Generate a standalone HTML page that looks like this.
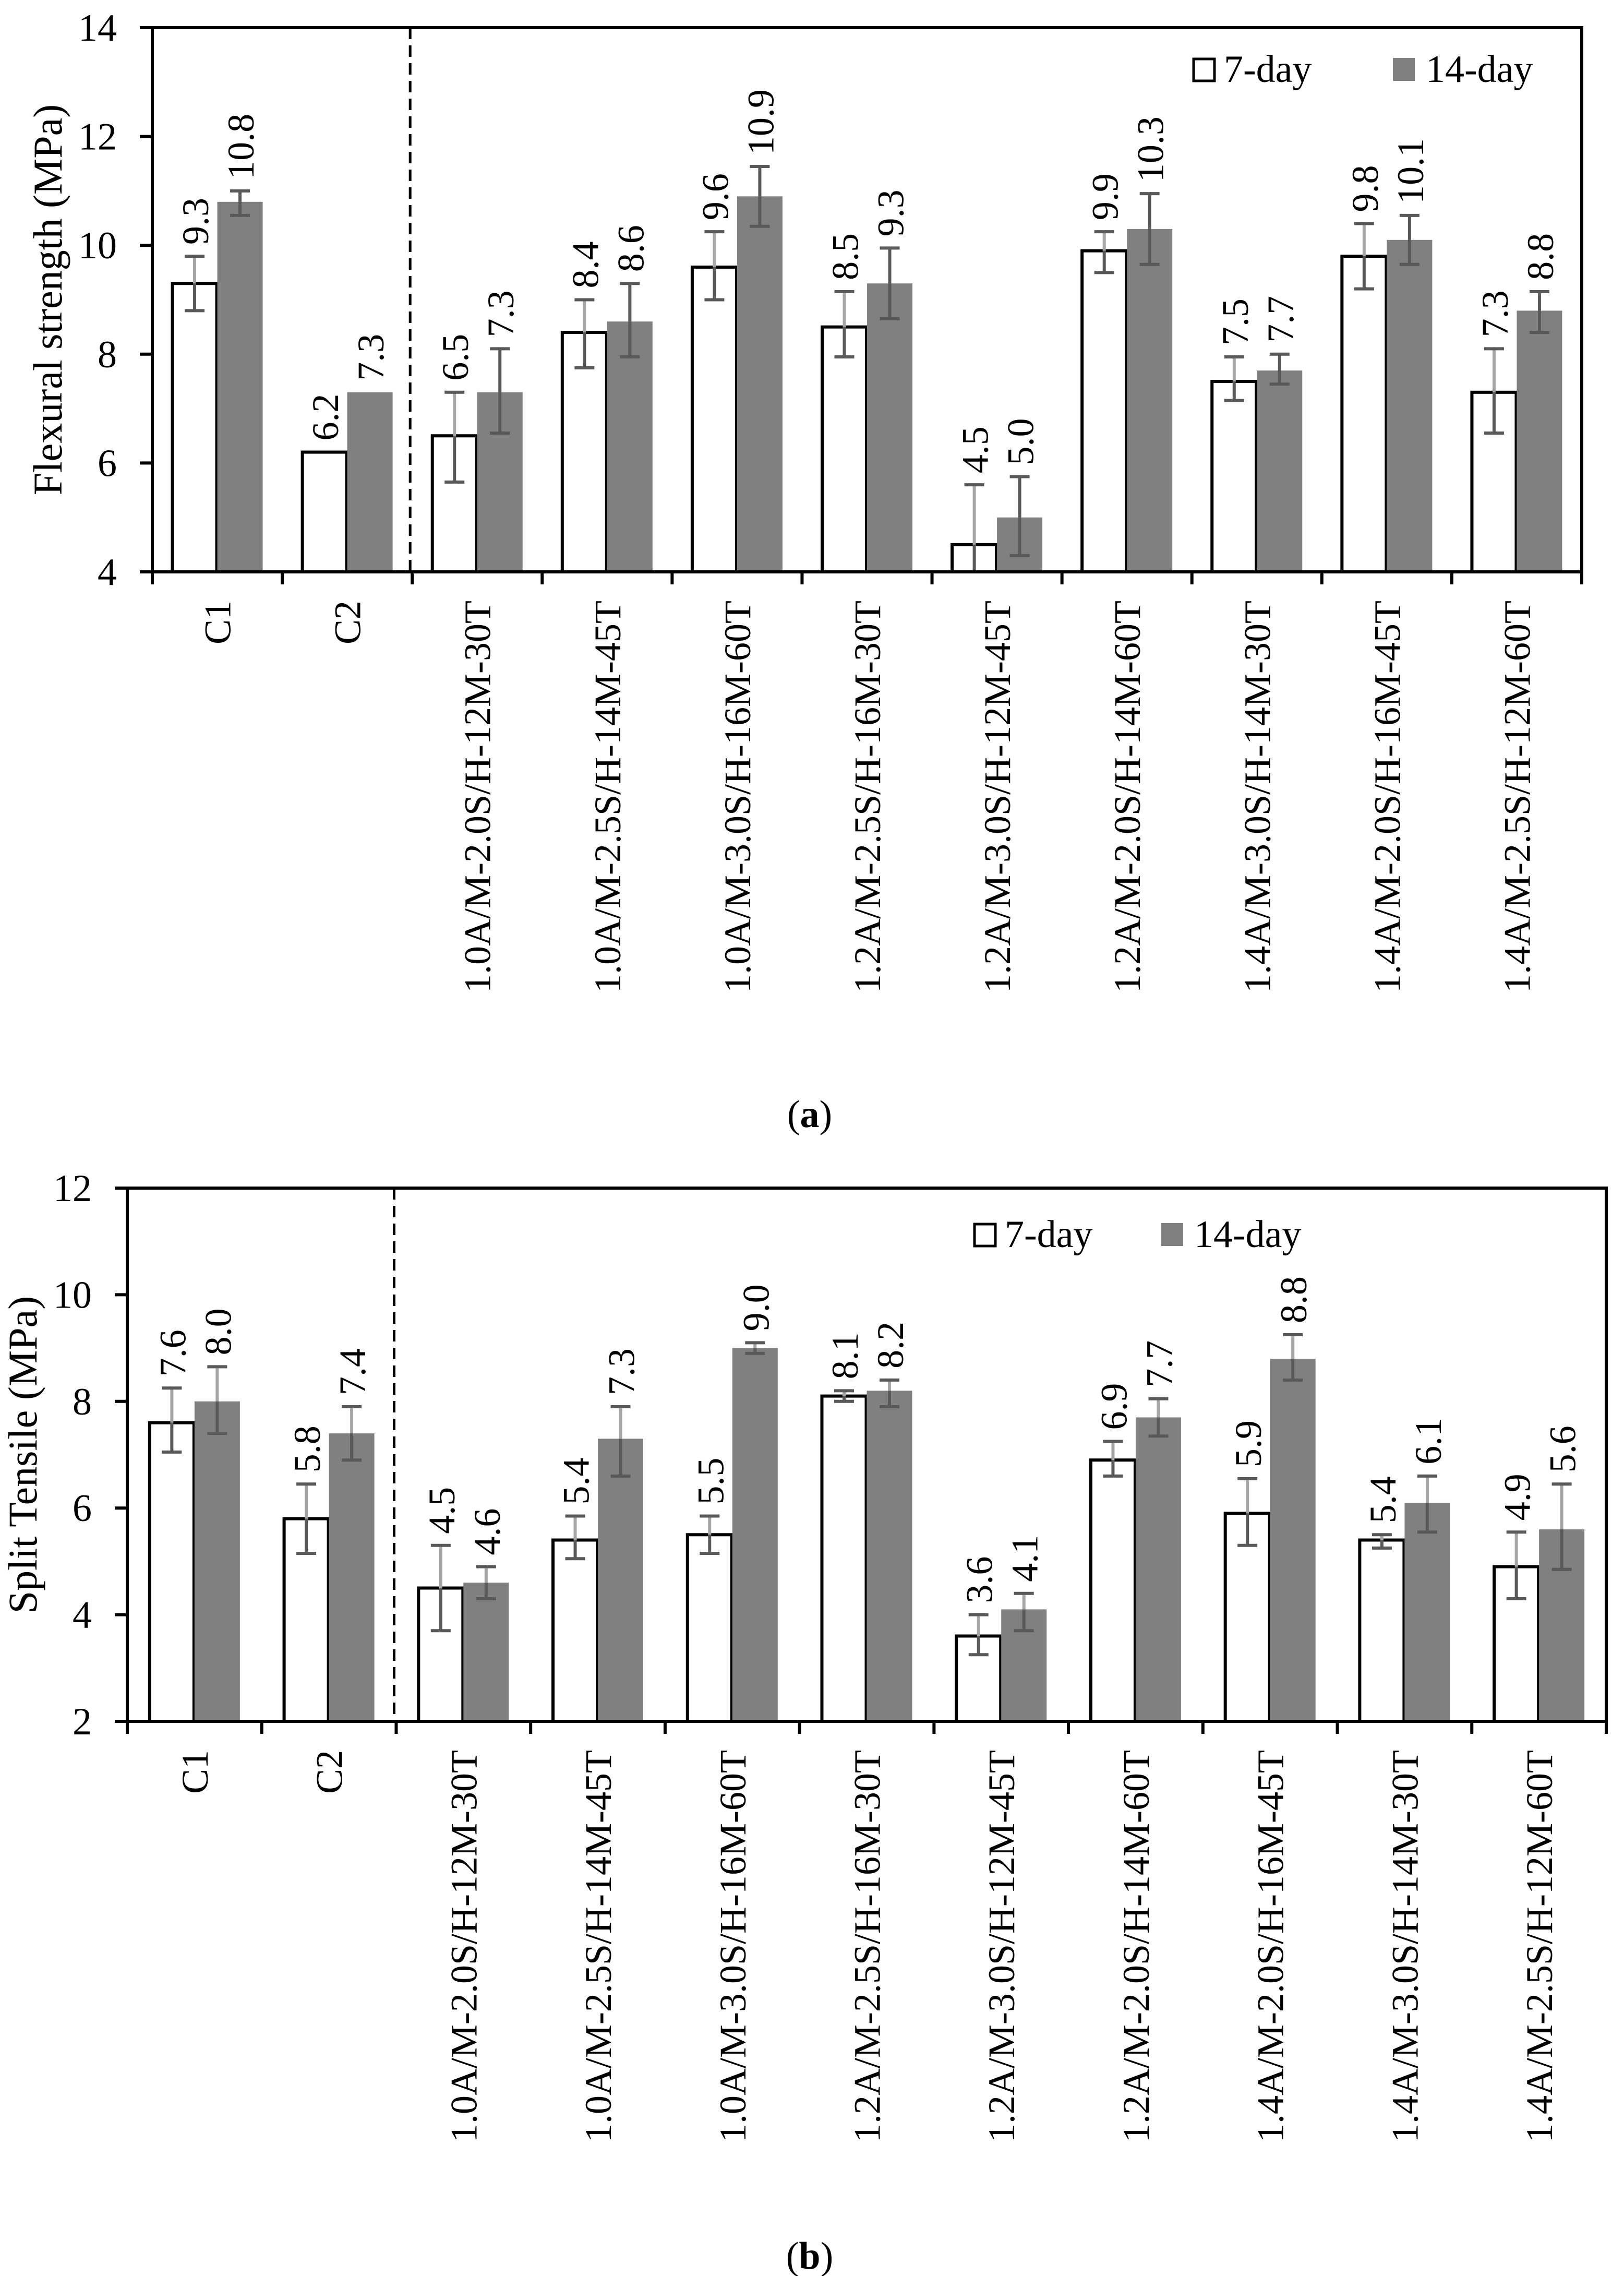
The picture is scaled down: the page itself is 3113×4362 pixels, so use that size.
<!DOCTYPE html>
<html><head><meta charset="utf-8">
<style>
html,body{margin:0;padding:0;background:#fff;}
svg{display:block;font-family:"Liberation Serif",serif;}
</style></head>
<body>
<svg id="fig" width="3113" height="4362" viewBox="0 0 3113 4362" xmlns="http://www.w3.org/2000/svg">
<text x="1552" y="2160" font-size="74" text-anchor="middle">(<tspan font-weight="bold">a</tspan>)</text>
<text x="1552" y="4348" font-size="74" text-anchor="middle">(<tspan font-weight="bold">b</tspan>)</text>
</svg>
<script>
const categories = ["C1","C2","1.0A/M-2.0S/H-12M-30T","1.0A/M-2.5S/H-14M-45T","1.0A/M-3.0S/H-16M-60T","1.2A/M-2.5S/H-16M-30T","1.2A/M-3.0S/H-12M-45T","1.2A/M-2.0S/H-14M-60T","1.4A/M-3.0S/H-14M-30T","1.4A/M-2.0S/H-16M-45T","1.4A/M-2.5S/H-12M-60T"];
const categoriesB = ["C1","C2","1.0A/M-2.0S/H-12M-30T","1.0A/M-2.5S/H-14M-45T","1.0A/M-3.0S/H-16M-60T","1.2A/M-2.5S/H-16M-30T","1.2A/M-3.0S/H-12M-45T","1.2A/M-2.0S/H-14M-60T","1.4A/M-2.0S/H-16M-45T","1.4A/M-3.0S/H-14M-30T","1.4A/M-2.5S/H-12M-60T"];
// Chart (a) flexural
const flex7 = [9.3,6.2,6.5,8.4,9.6,8.5,4.5,9.9,7.5,9.8,7.3];
const flex14 = [10.8,7.3,7.3,8.6,10.9,9.3,5.0,10.3,7.7,10.1,8.8];
const flex7Hi = [9.8,null,7.3,9.0,10.25,9.15,5.6,10.25,7.95,10.4,8.1];
const flex7Lo = [8.8,null,5.65,7.75,9.0,7.95,4.0,9.5,7.15,9.2,6.55];
const flex14Hi = [11.0,null,8.1,9.3,11.45,9.95,5.75,10.95,8.0,10.55,9.15];
const flex14Lo = [10.55,null,6.55,7.95,10.35,8.65,4.3,9.65,7.45,9.65,8.4];
const flexTicks = [4,6,8,10,12,14];
// Chart (b) split tensile
const split7 = [7.6,5.8,4.5,5.4,5.5,8.1,3.6,6.9,5.9,5.4,4.9];
const split14 = [8.0,7.4,4.6,7.3,9.0,8.2,4.1,7.7,8.8,6.1,5.6];
const split7Hi = [8.25,6.45,5.3,5.85,5.85,8.2,4.0,7.25,6.55,5.5,5.55];
const split7Lo = [7.05,5.15,3.7,5.05,5.15,8.0,3.25,6.6,5.3,5.25,4.3];
const split14Hi = [8.65,7.9,4.9,7.9,9.1,8.4,4.4,8.05,9.25,6.6,6.45];
const split14Lo = [7.4,6.9,4.3,6.6,8.9,7.9,3.7,7.35,8.4,5.55,4.85];
const splitTicks = [2,4,6,8,10,12];
const legendLabels = ["7-day","14-day"];

const NS = "http://www.w3.org/2000/svg";
const svg = document.getElementById('fig');
function mk(tag, attrs, parent){
  const e = document.createElementNS(NS, tag);
  for (const k in attrs) e.setAttribute(k, attrs[k]);
  (parent||svg).appendChild(e);
  return e;
}

function drawChart(o){
  const g = mk('g', {});
  
  
  const n = o.cats.length;
  const cw = (o.right - o.left) / n;
  const yS = v => o.bottom - (v - o.ymin) / (o.ymax - o.ymin) * (o.bottom - o.top);
  const xC = i => o.left + cw * (i + 0.5);
  const bw = 87;
  // bars
  for (let i = 0; i < n; i++) {
    const c = xC(i);
    const y7 = yS(o.v7[i]);
    const w = mk('rect', {x: c - bw + 1, y: y7, width: bw - 2, height: o.bottom - y7, fill: '#fff', stroke: '#000', 'stroke-width': 6}, g);
    
    
    const y14 = yS(o.v14[i]);
    const gb = mk('rect', {x: c, y: y14, width: bw, height: o.bottom - y14, fill: '#808080'}, g);
    
    
    const series = [[c - bw/2, o.v7[i], o.h7[i], o.l7[i], true], [c + bw/2, o.v14[i], o.h14[i], o.l14[i], o.lightGray]];
    series.forEach((s, k) => {
      const [x, v, hi, lo, light] = s;
      let top = yS(v);
      if (hi != null) {
        const eg = mk('g', {}, g);
        
        
        mk('line', {x1: x, x2: x, y1: yS(v), y2: yS(lo), stroke: '#595959', 'stroke-width': 6}, eg);
        mk('line', {x1: x, x2: x, y1: yS(v), y2: yS(hi), stroke: light ? '#a6a6a6' : '#595959', 'stroke-width': 6}, eg);
        mk('line', {x1: x - 19, x2: x + 19, y1: yS(hi), y2: yS(hi), stroke: '#595959', 'stroke-width': 6}, eg);
        mk('line', {x1: x - 19, x2: x + 19, y1: yS(lo), y2: yS(lo), stroke: '#595959', 'stroke-width': 6}, eg);
        top = Math.min(top, yS(hi));
      }
      const t = mk('text', {x: 0, y: 0, 'font-size': 72, transform: `translate(${x + 26},${top - 22}) rotate(-90)`}, g);
      t.textContent = v.toFixed(1);
      
      
    });
  }
  // dashed separator
  const dx = o.left + cw * 2;
  const d = mk('line', {x1: dx - 4, x2: dx - 4, y1: o.top, y2: o.bottom, stroke: '#000', 'stroke-width': 5, 'stroke-dasharray': '22,12'}, g);
  
  
  // frame & axes
  const f = mk('path', {d: `M${o.left},${o.top} H${o.right} V${o.bottom}`, fill: 'none', stroke: '#000', 'stroke-width': 6}, g);
  
  
  const ya = mk('line', {x1: o.left, x2: o.left, y1: o.top - 3, y2: o.bottom + 24, stroke: '#000', 'stroke-width': 6}, g);
  
  
  const xa = mk('line', {x1: o.left - 24, x2: o.right + 3, y1: o.bottom, y2: o.bottom, stroke: '#000', 'stroke-width': 6}, g);
  
  
  o.ticks.forEach(tv => {
    const y = yS(tv);
    mk('line', {x1: o.left - 24, x2: o.left, y1: y, y2: y, stroke: '#000', 'stroke-width': 6}, g);
    const t = mk('text', {x: o.left - 68, y: y + 25, 'font-size': 74, 'text-anchor': 'end'}, g);
    t.textContent = tv;
    
    
  });
  for (let i = 0; i <= n; i++) {
    const x = o.left + cw * i;
    mk('line', {x1: x, x2: x, y1: o.bottom, y2: o.bottom + 24, stroke: '#000', 'stroke-width': 6}, g);
  }
  o.cats.forEach((c, i) => {
    const t = mk('text', {x: 0, y: 0, 'font-size': 72, 'text-anchor': 'end', transform: `translate(${xC(i) + 25},${o.bottom + 55}) rotate(-90)`}, g);
    t.textContent = c;
    
    
  });
  const yt = mk('text', {x: 0, y: 0, 'font-size': 78, 'text-anchor': 'middle', transform: `translate(${o.titleX},${(o.top + o.bottom) / 2}) rotate(-90)`}, g);
  yt.textContent = o.title;
  
  
  // legend
  const lg = mk('g', {}, g);
  
  
  const e1 = mk('rect', {x: o.lx1, y: o.ly - 20, width: 40, height: 42, fill: '#fff', stroke: '#000', 'stroke-width': 5}, lg);
  
  
  const t1 = mk('text', {x: o.lx1 + 58, y: o.ly + 24, 'font-size': 74}, lg);
  t1.textContent = legendLabels[0];
  
  
  const e2 = mk('rect', {x: o.lx2, y: o.ly - 22, width: 42, height: 44, fill: '#808080'}, lg);
  
  
  const t2 = mk('text', {x: o.lx2 + 63, y: o.ly + 24, 'font-size': 74}, lg);
  t2.textContent = legendLabels[1];
  
  
}

drawChart({name: 'chart-a-flexural', cats: categories, v7: flex7, v14: flex14, h7: flex7Hi, l7: flex7Lo, h14: flex14Hi, l14: flex14Lo,
  ticks: flexTicks, ymin: 4, ymax: 14, left: 292, right: 3032, top: 53, bottom: 1096,
  title: 'Flexural strength (MPa)', titleX: 118, lx1: 2288, lx2: 2670, ly: 133, lightGray: false});
drawChart({name: 'chart-b-split-tensile', cats: categoriesB, v7: split7, v14: split14, h7: split7Hi, l7: split7Lo, h14: split14Hi, l14: split14Lo,
  ticks: splitTicks, ymin: 2, ymax: 12, left: 244, right: 3079, top: 2277, bottom: 3299,
  title: 'Split Tensile (MPa)', titleX: 70, lx1: 1868, lx2: 2226, ly: 2366, lightGray: true});
</script>
</body></html>
